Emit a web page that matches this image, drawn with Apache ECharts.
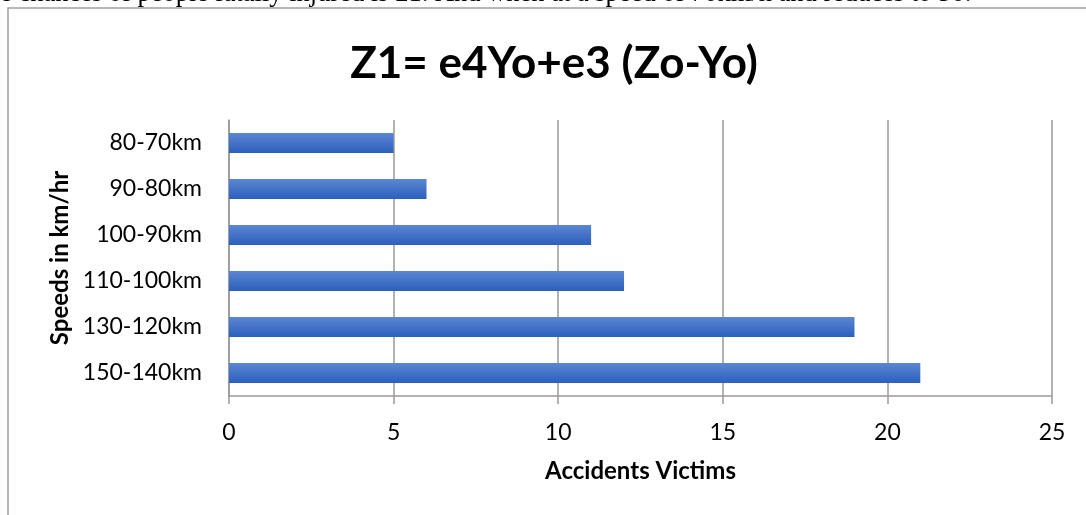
<!DOCTYPE html>
<html>
<head>
<meta charset="utf-8">
<script src="https://cdn.jsdelivr.net/npm/echarts@6/dist/echarts.min.js"></script>
<style>
  html, body { margin: 0; padding: 0; background: #fff; }
  #chart { width: 1086px; height: 515px; }
</style>
</head>
<body>
<div id="chart"></div>
<script>
// speed ranges, top to bottom as shown
const speeds = ['80-70km', '90-80km', '100-90km', '110-100km', '130-120km', '150-140km'];
const victims = [5, 6, 11, 12, 19, 21];
const xTicks = [0, 5, 10, 15, 20, 25];

const chart = echarts.init(document.getElementById('chart'));
const font = 'Lato, "Open Sans", sans-serif';

chart.setOption({
  animation: false,
  grid: { left: 229, right: 34, top: 120, bottom: 119, containLabel: false },
  graphic: [
    {
      // clipped line of the surrounding document text
      type: 'text',
      x: 0,
      y: 8,
      style: {
        text: 'e chances of people fatally injured is 21. And when at a speed of 70km/h and reduces to 50.',
        font: '26.5px "Liberation Serif", "DejaVu Serif", serif',
        fill: '#000',
        verticalAlign: 'bottom'
      }
    },
    {
      type: 'rect',
      shape: { x: 8, y: 8, width: 1100, height: 530 },
      style: { fill: 'none', stroke: '#a0a0a0', lineWidth: 1.5 },
      z: -1
    },
    {
      type: 'text',
      x: 554,
      y: 64,
      style: {
        text: 'Z1= e4Yo+e3 (Zo-Yo)',
        font: 'bold 44px ' + font,
        fill: '#000',
        align: 'center',
        verticalAlign: 'middle'
      }
    }
  ],
  xAxis: {
    type: 'value',
    min: xTicks[0],
    max: xTicks[xTicks.length - 1],
    interval: 5,
    name: 'Accidents Victims',
    nameLocation: 'middle',
    nameGap: 63,
    nameTextStyle: { fontFamily: font, fontWeight: 'bold', fontSize: 24, color: '#000' },
    axisLine: { show: true, lineStyle: { color: '#999', width: 1.5 } },
    axisTick: { show: true, length: 8, lineStyle: { color: '#999', width: 1.5 } },
    axisLabel: { margin: 25, fontFamily: font, fontSize: 23, color: '#000' },
    splitLine: { show: true, lineStyle: { color: '#999', width: 1.5 } }
  },
  yAxis: {
    type: 'category',
    data: speeds,
    inverse: true,
    name: 'Speeds in km/hr',
    nameLocation: 'middle',
    nameRotate: 90,
    nameGap: 157,
    nameTextStyle: { fontFamily: font, fontWeight: 'bold', fontSize: 24, color: '#000' },
    axisLine: { show: true, lineStyle: { color: '#999', width: 1.5 } },
    axisTick: { show: false },
    axisLabel: { margin: 27, fontFamily: font, fontSize: 23, color: '#000' }
  },
  series: [
    {
      type: 'bar',
      data: victims,
      barWidth: 20,
      itemStyle: {
        color: new echarts.graphic.LinearGradient(0, 0, 0, 1, [
          { offset: 0, color: '#5b86d2' },
          { offset: 1, color: '#2c5fbd' }
        ])
      }
    }
  ]
});
</script>
</body>
</html>
